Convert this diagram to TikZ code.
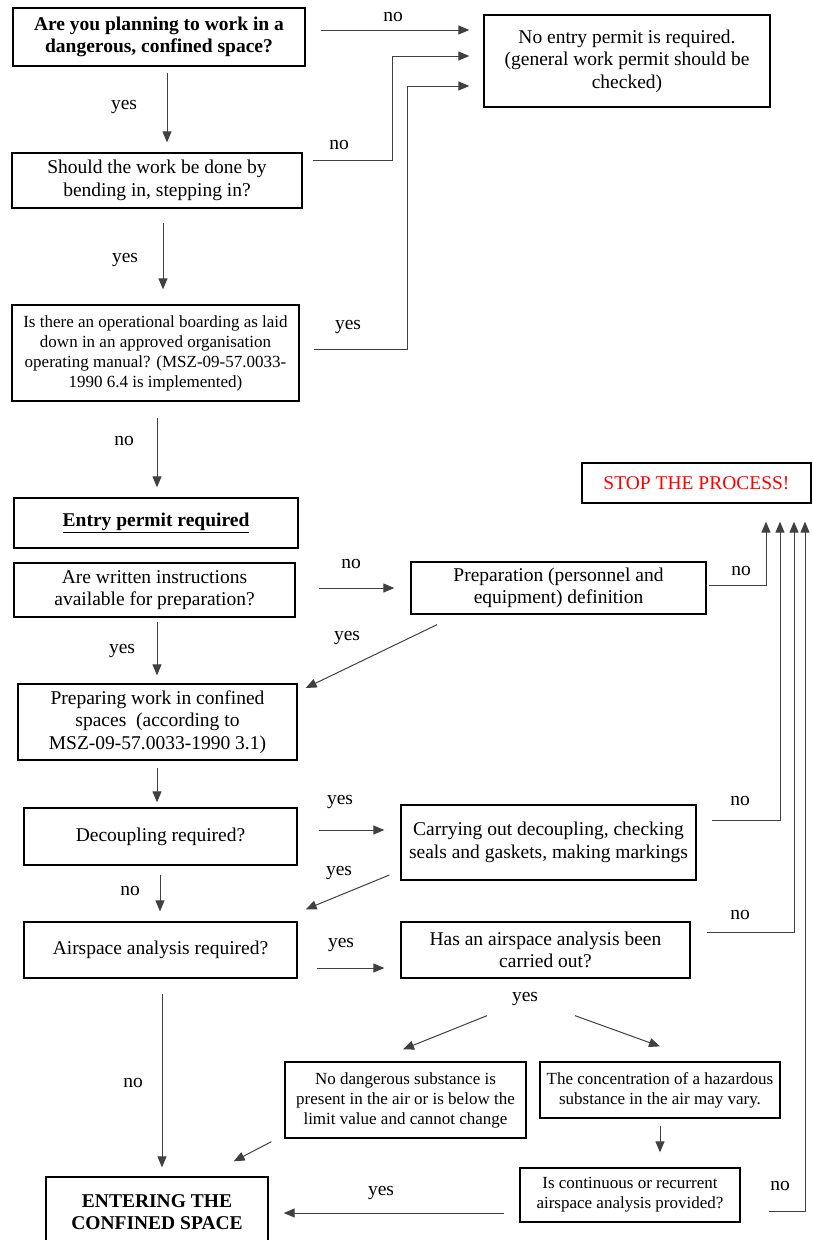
\documentclass[tikz,border=0pt]{standalone}
\usepackage{fontspec}
\setmainfont{Liberation Serif}
\usetikzlibrary{arrows.meta}
\begin{document}
\begin{tikzpicture}[x=1pt,y=-1pt,
  box/.style={draw=black,line width=1.3pt,inner sep=0pt,align=center,
    font=\fontsize{19.5}{22.5}\selectfont},
  sbox/.style={box,font=\fontsize{17}{20}\selectfont},
  arr/.style={draw=black!75,line width=1pt,-{Triangle[length=11pt,width=9pt]}},
  lab/.style={inner sep=0pt,font=\fontsize{19.5}{22}\selectfont}]
\useasboundingbox (0,0) rectangle (812,1240);
% boxes
\node[box,minimum width=292,minimum height=58,font=\fontsize{19.5}{22.5}\selectfont\bfseries] (q1) at (159,37) {Are you planning to work in a\\dangerous, confined space?};
\node[box,minimum width=286,minimum height=92] (np) at (627,61) {No entry permit is required.\\(general work permit should be\\checked)};
\node[box,minimum width=290,minimum height=55] (q2) at (157,180.5) {Should the work be done by\\bending in, stepping in?};
\node[sbox,minimum width=287,minimum height=96] (q3) at (155.5,353) {Is there an operational boarding as laid\\down in an approved organisation\\operating manual? (MSZ-09-57.0033-\\1990 6.4 is implemented)};
\node[box,minimum width=284,minimum height=50,font=\fontsize{19.5}{22.5}\selectfont\bfseries] (ep) at (156,523) {\underline{Entry permit required}};
\node[box,minimum width=229,minimum height=40,text=red] (stop) at (696.5,483) {STOP THE PROCESS!};
\node[box,minimum width=281,minimum height=54] (q4) at (154.5,590) {Are written instructions\\available for preparation?};
\node[box,minimum width=295,minimum height=52] (pd) at (558.5,588) {Preparation (personnel and\\equipment) definition};
\node[box,minimum width=279,minimum height=76] (pw) at (157.5,722) {Preparing work in confined\\spaces\ \ (according to\\MSZ-09-57.0033-1990 3.1)};
\node[box,minimum width=273,minimum height=57] (dc) at (160.5,836.5) {Decoupling required?};
\node[box,minimum width=295,minimum height=75] (co) at (548.5,842.5) {Carrying out decoupling, checking\\seals and gaskets, making markings};
\node[box,minimum width=273,minimum height=56] (ar) at (160.5,950) {Airspace analysis required?};
\node[box,minimum width=289,minimum height=56] (ha) at (545.5,950) {Has an airspace analysis been\\carried out?};
\node[sbox,minimum width=241,minimum height=76] (nd) at (405.5,1100) {No dangerous substance is\\present in the air or is below the\\limit value and cannot change};
\node[sbox,minimum width=240,minimum height=56] (cc) at (660,1090) {The concentration of a hazardous\\substance in the air may vary.};
\node[sbox,minimum width=220,minimum height=54] (ic) at (630,1195) {Is continuous or recurrent\\airspace analysis provided?};
\node[box,minimum width=222,minimum height=70,font=\fontsize{19.5}{22.5}\selectfont\bfseries] (en) at (157,1212) {ENTERING THE\\CONFINED SPACE};
% connectors
\draw[arr] ([shift={(15,-7)}]q1.east) -- ([shift={(-14,-31)}]np.west);
\draw[arr] ([shift={(8,6)}]q1.south) -- ([shift={(10,-10)}]q2.north);
\draw[arr] ([shift={(10,-20.5)}]q2.east) -- ++(80,0) |- ([shift={(-14,-5)}]np.west);
\draw[arr] ([shift={(6,14)}]q2.south) -- ([shift={(7.5,-15)}]q3.north);
\draw[arr] ([shift={(14,-4)}]q3.east) -- ++(94,0) |- ([shift={(-14,25)}]np.west);
\draw[arr] ([shift={(1.5,16)}]q3.south) -- ([shift={(1,-10)}]ep.north);
\draw[arr] ([shift={(23,-2)}]q4.east) -- ([shift={(-16,0)}]pd.west);
\draw[arr] ([shift={(2.5,4)}]q4.south) -- ([shift={(-0.5,-8)}]pw.north);
\draw[arr] ([shift={(-121.5,10)}]pd.south) -- ([shift={(8,-34)}]pw.east);
\draw[arr] ([shift={(-0.5,7)}]pw.south) -- ([shift={(-3.5,-5)}]dc.north);
\draw[arr] ([shift={(21,-6.5)}]dc.east) -- ([shift={(-16,-12.5)}]co.west);
\draw[arr] ([shift={(-11,32.5)}]co.west) -- ([shift={(8,-12)}]ar.north east);
\draw[arr] ([shift={(-0.5,9)}]dc.south) -- ([shift={(-0.5,-10)}]ar.north);
\draw[arr] ([shift={(19,18)}]ar.east) -- ([shift={(-16,18)}]ha.west);
\draw[arr] ([shift={(-58.5,37)}]ha.south) -- ([shift={(-2.5,-12)}]nd.north);
\draw[arr] ([shift={(29.5,37)}]ha.south) -- ([shift={(0,-15)}]cc.north);
\draw[arr] ([shift={(-13,3)}]nd.south west) -- ([shift={(-35,-15)}]en.north east);
\draw[arr] ([shift={(1.5,15)}]ar.south) -- ([shift={(5,-9)}]en.north);
\draw[arr] ([shift={(0,7)}]cc.south) -- ([shift={(30,-15)}]ic.north);
\draw[arr] ([shift={(-15,18)}]ic.west) -- ([shift={(15,1)}]en.east);
\draw[arr] ([shift={(2,-3)}]pd.east) -| ([shift={(69.5,18)}]stop.south);
\draw[arr] ([shift={(15,-22.5)}]co.east) -| ([shift={(83.5,18)}]stop.south);
\draw[arr] ([shift={(16,-18)}]ha.east) -| ([shift={(97.5,18)}]stop.south);
\draw[arr] ([shift={(28,16)}]ic.east) -| ([shift={(108.5,18)}]stop.south);
% labels
\node[lab] (l1) at (393,17) {no};
\node[lab] (l2) at (124,107) {yes};
\node[lab] (l3) at (339,145) {no};
\node[lab] (l4) at (125,260) {yes};
\node[lab] (l5) at (348,327) {yes};
\node[lab] (l6) at (124,441) {no};
\node[lab] (l7) at (351,564) {no};
\node[lab] (l8) at (122,651) {yes};
\node[lab] (l9) at (347,638) {yes};
\node[lab] (l10) at (741,571) {no};
\node[lab] (l11) at (340,802) {yes};
\node[lab] (l12) at (740,801) {no};
\node[lab] (l13) at (339,873) {yes};
\node[lab] (l14) at (130,891) {no};
\node[lab] (l15) at (341,945) {yes};
\node[lab] (l16) at (740,915) {no};
\node[lab] (l17) at (525,999) {yes};
\node[lab] (l18) at (133,1083) {no};
\node[lab] (l19) at (381,1193) {yes};
\node[lab] (l20) at (780,1186) {no};
\end{tikzpicture}
\end{document}
